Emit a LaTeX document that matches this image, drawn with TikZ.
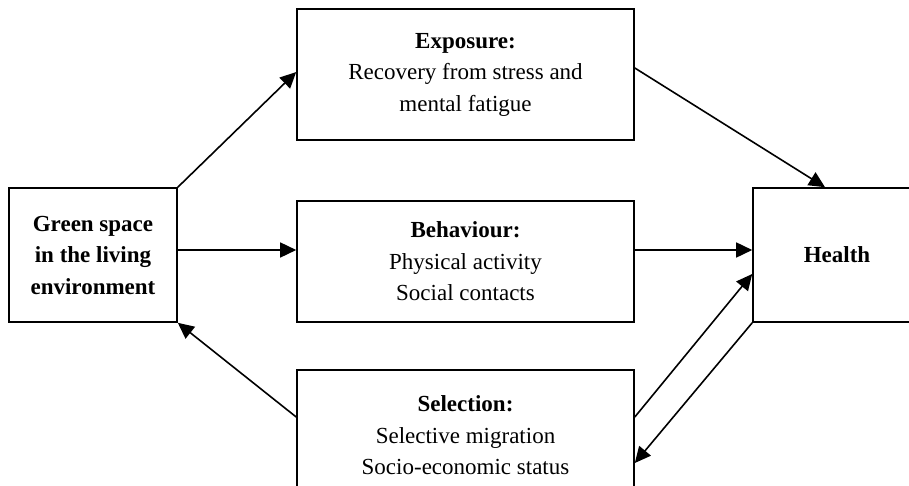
\documentclass[tikz,border=0pt]{standalone}
\usepackage{fontspec}
\setmainfont{Liberation Serif}
\usetikzlibrary{arrows.meta}
\begin{document}
\begin{tikzpicture}[x=1pt,y=-1pt,
  box/.style={draw,line width=1.6pt,rectangle,inner sep=0pt,align=center,
    font=\fontsize{23}{31.5}\selectfont},
  conn/.style={line width=1.6pt,-{Triangle[length=16pt,width=15pt]}}]
\useasboundingbox (0,0) rectangle (909,486);
\clip (0,0) rectangle (909,486);
\fill[white] (0,0) rectangle (909,486);
\node[box,minimum width=168pt,minimum height=134pt] (green) at (93,255)
  {\textbf{Green space}\\\textbf{in the living}\\\textbf{environment}};
\node[box,minimum width=337pt,minimum height=131pt] (exposure) at (465.5,74.5)
  {\textbf{Exposure:}\\Recovery from stress and\\mental fatigue};
\node[box,minimum width=337pt,minimum height=121pt] (behaviour) at (465.5,261.5)
  {\textbf{Behaviour:}\\Physical activity\\Social contacts};
\node[box,minimum width=337pt,minimum height=131pt] (selection) at (465.5,435.5)
  {\textbf{Selection:}\\Selective migration\\Socio-economic status};
\node[box,minimum width=168pt,minimum height=134pt] (health) at (837,255)
  {\textbf{Health}};
\draw[conn] (green.north east) -- ([yshift=2.5pt]exposure.west);
\draw[conn] ([yshift=6.5pt]exposure.east) -- ([xshift=-12pt]health.north);
\draw[conn] ([yshift=5pt]green.east) -- ([yshift=11.5pt]behaviour.west);
\draw[conn] ([yshift=11.5pt]behaviour.east) -- ([yshift=5pt]health.west);
\draw[conn] ([yshift=18.5pt]selection.east) -- ([yshift=-19pt]health.west);
\draw[conn] (health.south west) -- ([yshift=-27.5pt]selection.east);
\draw[conn] ([yshift=18.5pt]selection.west) -- (green.south east);
\end{tikzpicture}
\end{document}
